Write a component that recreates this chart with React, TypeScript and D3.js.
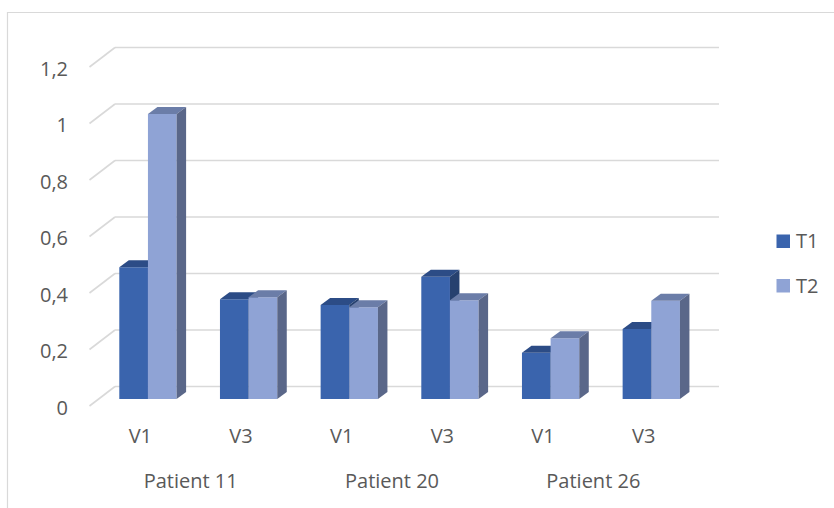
import React from "react";
import * as d3 from "d3";

const visits = ["V1", "V3", "V1", "V3", "V1", "V3"];
const patients = ["Patient 11", "Patient 20", "Patient 26"];
const seriesNames = ["T1", "T2"];
const t1Values = [0.466, 0.353, 0.333, 0.433, 0.164, 0.248];
const t2Values = [1.009, 0.36, 0.325, 0.35, 0.215, 0.348];
const yTicks = [0, 0.2, 0.4, 0.6, 0.8, 1, 1.2];

const W = 834;
const H = 508;

// back wall
const yScale = d3.scaleLinear().domain([0, 1.2]).range([386.5, 47.5]);
const wallX0 = 115;
const wallX1 = 719;
const depthDx = 25.5;
const depthDy = 19.5;

// category plane (front)
const xScale = d3
  .scaleBand<number>()
  .domain(visits.map((_, i) => i))
  .range([90, 694])
  .paddingInner(0)
  .paddingOuter(0);
const xSeries = d3.scaleBand<string>().domain(seriesNames).range([29.3, 86.6]);

const barShiftY = 12.5; // bar front face offset from back wall
const barDx = 9.5;
const barDy = 7;

const colors = {
  T1: { front: "#3A64AD", top: "#2C4C86", side: "#27416F" },
  T2: { front: "#8FA3D5", top: "#6B7DA8", side: "#5A6789" },
};

const fmt = (v: number) => String(v).replace(".", ",");

function Bar({ x, w, v, c }: { x: number; w: number; v: number; c: { front: string; top: string; side: string } }) {
  const yTop = yScale(v) + barShiftY;
  const yBot = yScale(0) + barShiftY;
  const front = `M${x},${yTop}L${x + w},${yTop}L${x + w},${yBot}L${x},${yBot}Z`;
  const top = `M${x},${yTop}L${x + barDx},${yTop - barDy}L${x + w + barDx},${yTop - barDy}L${x + w},${yTop}Z`;
  const side = `M${x + w},${yTop}L${x + w + barDx},${yTop - barDy}L${x + w + barDx},${yBot - barDy}L${x + w},${yBot}Z`;
  return (
    <g>
      <path d={front} fill={c.front} />
      <path d={top} fill={c.top} />
      <path d={side} fill={c.side} />
    </g>
  );
}

export default function App() {
  const font = "'Open Sans', sans-serif";
  const textColor = "#595959";
  const grid = "#D9D9D9";
  return (
    <svg
      width={W}
      height={H}
      style={{ position: "absolute", left: 0, top: 0, background: "#fff" }}
      fontFamily={font}
    >
      <rect x={0} y={0} width={W} height={H} fill="#fff" />
      {/* chart border */}
      <path d={`M${W + 2},12.5L7.5,12.5L7.5,${H + 2}`} fill="none" stroke={grid} strokeWidth={1.2} />

      {/* gridlines */}
      {yTicks.map((t) => (
        <g key={t}>
          <line x1={wallX0} x2={wallX1} y1={yScale(t)} y2={yScale(t)} stroke={grid} strokeWidth={1.6} />
          <line
            x1={wallX0 - depthDx}
            y1={yScale(t) + depthDy}
            x2={wallX0}
            y2={yScale(t)}
            stroke={grid}
            strokeWidth={1.6}
          />
          <text
            x={68}
            y={yScale(t) + depthDy + 8.5}
            textAnchor="end"
            fontSize={20}
            fill={textColor}
          >
            {fmt(t)}
          </text>
        </g>
      ))}

      {/* bars */}
      {visits.map((_, i) => {
        const x0 = xScale(i)!;
        return (
          <g key={i}>
            <Bar x={x0 + xSeries("T1")!} w={xSeries.bandwidth()} v={t1Values[i]} c={colors.T1} />
            <Bar x={x0 + xSeries("T2")!} w={xSeries.bandwidth()} v={t2Values[i]} c={colors.T2} />
          </g>
        );
      })}

      {/* category labels */}
      {visits.map((v, i) => (
        <text
          key={i}
          x={xScale(i)! + xScale.bandwidth() / 2}
          y={443}
          textAnchor="middle"
          fontSize={20}
          fill={textColor}
        >
          {v}
        </text>
      ))}
      {patients.map((p, j) => {
        const a = xScale(j * 2)! + xScale.bandwidth() / 2;
        const b = xScale(j * 2 + 1)! + xScale.bandwidth() / 2;
        return (
          <text key={p} x={(a + b) / 2} y={488} textAnchor="middle" fontSize={20} fill={textColor}>
            {p}
          </text>
        );
      })}

      {/* legend */}
      {seriesNames.map((s, k) => (
        <g key={s} transform={`translate(776.5, ${234.5 + k * 44.5})`}>
          <rect x={0} y={0} width={13.5} height={13.5} fill={colors[s as "T1" | "T2"].front} />
          <text x={19.5} y={13.5} fontSize={20} fill={textColor}>
            {s}
          </text>
        </g>
      ))}
    </svg>
  );
}
